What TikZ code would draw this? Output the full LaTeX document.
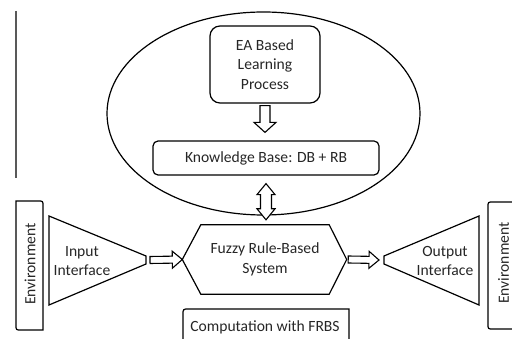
\documentclass[tikz,border=0pt]{standalone}
\usepackage{fontspec}
\setmainfont{Carlito}
\usetikzlibrary{calc}

% hollow block arrow: start, tip, stem half width, head half width, head length
\newcommand{\hollowarrow}[5]{%
  \coordinate (ha-n) at ($(#2)!#5!(#1)$);
  \draw[blockarrow] ($(#1)!#3!90:(#2)$) -- ($(ha-n)!#3!90:(#2)$)
    -- ($(ha-n)!#4!90:(#2)$) -- (#2) -- ($(ha-n)!#4!-90:(#2)$)
    -- ($(ha-n)!#3!-90:(#2)$) -- ($(#1)!#3!-90:(#2)$) -- cycle;}

% hollow double-headed block arrow between two tips
\newcommand{\hollowdoublearrow}[5]{%
  \coordinate (da-a) at ($(#1)!#5!(#2)$);
  \coordinate (da-b) at ($(#2)!#5!(#1)$);
  \draw[blockarrow] (#1) -- ($(da-a)!#4!90:(#2)$) -- ($(da-a)!#3!90:(#2)$)
    -- ($(da-b)!#3!90:(#2)$) -- ($(da-b)!#4!90:(#2)$) -- (#2)
    -- ($(da-b)!#4!-90:(#2)$) -- ($(da-b)!#3!-90:(#2)$)
    -- ($(da-a)!#3!-90:(#2)$) -- ($(da-a)!#4!-90:(#2)$) -- cycle;}

\tikzset{
  outline/.style={draw=black, line width=1.2pt},
  blockarrow/.style={draw=black, line width=1.1pt, fill=white, line join=miter},
  label/.style={text=black!85, align=center, inner sep=0pt},
  roundbox/.style={outline, label, rounded corners=#1},
}

\begin{document}
\begin{tikzpicture}[x=1pt, y=-1pt, font=\fontsize{15.6}{19.5}\selectfont]
\useasboundingbox (0,0) rectangle (512,339);
\clip (0,0) rectangle (512,339);

% left margin rule
\draw[black!65, line width=1.5pt] (16,11) -- (16,178);

% learning ellipse
\draw[outline] (263.5,113.5) ellipse [x radius=156.5, y radius=101.5];

% boxes inside the ellipse
\node[roundbox=10pt, minimum width=110pt, minimum height=77pt] (ea) at (265,64.5)
  {EA Based\\Learning\\Process};
\node[roundbox=5pt, minimum width=226pt, minimum height=34pt] (kb) at (266,158)
  {Knowledge Base: DB + RB};

% fuzzy rule-based system (hexagon)
\node[label, minimum width=128pt, minimum height=69pt] (frbs) at (265,259.5)
  {Fuzzy Rule-Based\\System};
\coordinate (frbsW) at ($(frbs.west)+(-18.5,0)$);
\coordinate (frbsE) at ($(frbs.east)+(17.5,0)$);
\draw[outline, line join=miter] (frbs.north west) -- (frbs.north east) -- (frbsE)
  -- (frbs.south east) -- (frbs.south west) -- (frbsW) -- cycle;

% input interface (truncated triangle)
\node[label] (inp) at (82,261) {Input\\Interface};
\coordinate (inTipA) at (146,256);
\coordinate (inTipB) at (146,264);
\draw[outline, line join=miter] (49,216) -- (inTipA) -- (inTipB) -- (49,305) -- cycle;

% output interface (truncated triangle)
\node[label] (outp) at (445,261) {Output\\Interface};
\coordinate (outTipA) at (384,256);
\coordinate (outTipB) at (384,264);
\draw[outline, line join=miter] (479,216) -- (outTipA) -- (outTipB) -- (479,305) -- cycle;

% environment boxes
\node[label, rotate=90] (envL) at (30,264) {Environment};
\draw[outline] (16,201) -- (38,201) .. controls (43,201) .. (43,206)
  -- (43,330) -- (21,330) .. controls (16,330) .. (16,325) -- cycle;
\node[label, rotate=90] (envR) at (503.5,263) {Environment};
\draw[outline] (520,202) -- (493,202) .. controls (488,202) .. (488,207)
  -- (488,324) .. controls (488,329) .. (493,329) -- (520,329);

% computation box
\node[label] (comp) at (265,327) {Computation with FRBS};
\draw[outline] (183,345) -- (183,315) .. controls (183,309) .. (189,309)
  -- (349,309) -- (349,345);

% block arrows
\coordinate (a1s) at ($(ea.south)+(0,2)$);
\coordinate (a1t) at ($(kb.north)+(-1,-8)$);
\hollowarrow{a1s}{a1t}{5pt}{11pt}{10pt}

\coordinate (a2s) at ($(kb.south)+(0,8)$);
\coordinate (a2t) at ($(frbs.north)+(1,-5)$);
\hollowdoublearrow{a2s}{a2t}{5.5pt}{9pt}{11pt}

\coordinate (a3s) at ($(inTipA)!0.5!(inTipB)+(4,0)$);
\hollowarrow{a3s}{frbsW}{3.5pt}{8.5pt}{10pt}

\coordinate (a4s) at ($(frbsE)+(1.5,0)$);
\coordinate (a4t) at ($(outTipA)!0.5!(outTipB)+(-5,0)$);
\hollowarrow{a4s}{a4t}{3.5pt}{8.5pt}{10pt}
\end{tikzpicture}
\end{document}
